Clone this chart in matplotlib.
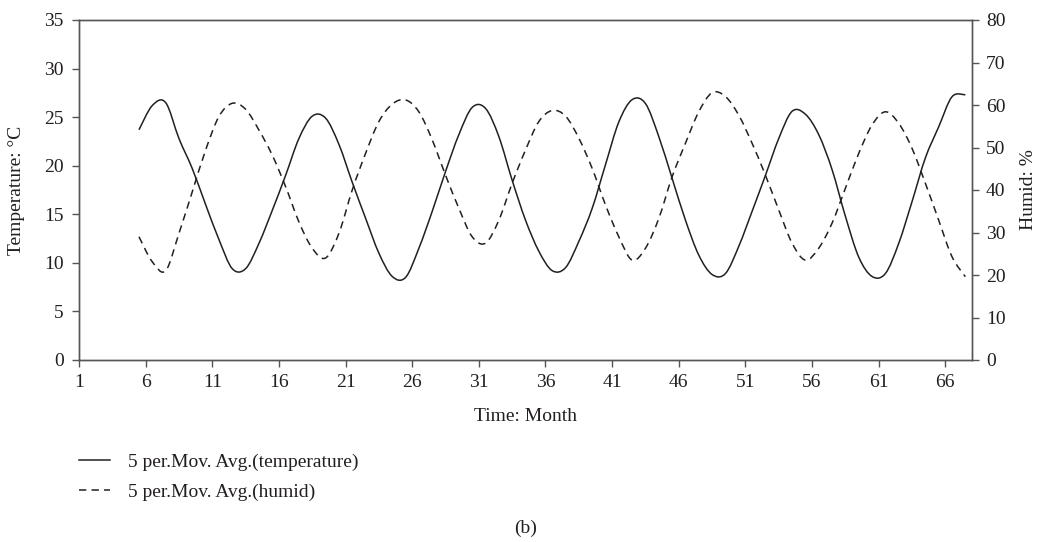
import numpy as np
import matplotlib
matplotlib.use('Agg')
from matplotlib import pyplot as plt
from matplotlib.path import Path
from matplotlib.patches import PathPatch
from matplotlib.lines import Line2D

# 5-period moving averages, months 5..67
months = np.arange(5, 68)
temperature = [23.7, 26.2, 26.5, 22.8, 19.7, 16.0, 12.4, 9.4, 9.4, 12.0,
               15.4, 19.0, 22.8, 25.1, 24.9, 22.2, 18.3, 14.6, 11.0, 8.6,
               8.5, 11.5, 15.3, 19.4, 23.2, 26.0, 25.9, 23.0, 18.5, 14.4,
               11.2, 9.2, 9.5, 12.2, 15.6, 20.1, 24.5, 26.8, 26.4, 23.0,
               18.7, 14.4, 10.8, 8.8, 8.9, 11.7, 15.3, 19.0, 22.8, 25.6,
               25.3, 23.2, 19.6, 14.8, 10.6, 8.6, 8.9, 12.0, 16.3, 20.8,
               24.0, 27.1, 27.3]
humid = [29.0, 23.1, 21.0, 29.8, 39.6, 49.4, 57.3, 60.4, 59.0, 54.1,
         48.2, 40.8, 32.5, 26.3, 24.0, 29.8, 40.0, 48.6, 56.1, 60.2,
         61.2, 58.4, 51.8, 43.5, 35.7, 29.0, 27.5, 32.9, 41.6, 49.4,
         56.1, 58.7, 57.4, 52.2, 45.1, 36.5, 29.0, 23.5, 26.3, 33.3,
         43.1, 51.0, 58.4, 62.9, 62.0, 57.6, 51.0, 43.5, 35.3, 27.5,
         23.5, 26.3, 32.2, 40.4, 48.6, 55.3, 58.4, 55.7, 49.8, 41.6,
         32.9, 24.3, 19.6]
x_ticks = np.arange(1, 67, 5)


def smooth_path(xs, ys):
    # smoothed line like Excel: cubic bezier through every data point
    p = np.column_stack([xs, ys]).astype(float)
    p = np.vstack([p[0], p, p[-1]])
    verts = [p[1]]
    codes = [Path.MOVETO]
    for i in range(1, len(p) - 2):
        c1 = p[i] + (p[i + 1] - p[i - 1]) / 6
        c2 = p[i + 1] - (p[i + 2] - p[i]) / 6
        verts += [c1, c2, p[i + 1]]
        codes += [Path.CURVE4] * 3
    return Path(verts, codes)


plt.rcParams['font.family'] = ['Liberation Serif', 'DejaVu Serif']
plt.rcParams['font.size'] = 14
txt = '#231f20'
axc = '#555555'
plt.rcParams['text.color'] = txt
plt.rcParams['axes.labelcolor'] = txt
plt.rcParams['xtick.color'] = axc
plt.rcParams['ytick.color'] = axc
plt.rcParams['xtick.labelcolor'] = txt
plt.rcParams['ytick.labelcolor'] = txt

fig = plt.figure(figsize=(10.44, 5.42), dpi=100)
ax = fig.add_axes([79 / 1044, 1 - 360 / 542, (972 - 79) / 1044, 340 / 542])
ax2 = ax.twinx()

# categories sit half a step right of their tick (Excel category axis)
x = months + 0.5
dash = (0, (4.8, 3.4))
ax.add_patch(PathPatch(smooth_path(x, temperature), fill=False, edgecolor=txt, lw=1.1))
ax2.add_patch(PathPatch(smooth_path(x, humid), fill=False, edgecolor=txt, lw=1.1, linestyle=dash))
l1 = Line2D([], [], color=txt, lw=1.1, label='5 per.Mov. Avg.(temperature)')
l2 = Line2D([], [], color=txt, lw=1.1, linestyle=dash, label='5 per.Mov. Avg.(humid)')

ax.set_xlim(1, 68)
ax.set_ylim(0, 35)
ax2.set_ylim(0, 80)
ax.set_xticks(x_ticks)
ax.set_yticks(np.arange(0, 36, 5))
ax2.set_yticks(np.arange(0, 81, 10))

for a in (ax, ax2):
    for s in a.spines.values():
        s.set_color(axc)
        s.set_linewidth(1.0)
ax.tick_params(axis='x', direction='out', length=5, width=1, pad=5)
ax.tick_params(axis='y', direction='out', length=5, width=1, pad=6)
ax2.tick_params(axis='y', direction='out', length=5, width=1, pad=5)

ax.set_xlabel('Time: Month')
ax.xaxis.set_label_coords(0.5, -0.14)
ax.set_ylabel('Temperature: °C')
ax.yaxis.set_label_coords(-0.061, 0.5)
ax2.set_ylabel('Humid: %')
ax2.yaxis.set_label_coords(1.054, 0.5)

fig.legend(handles=[l1, l2], loc='upper left', bbox_to_anchor=(79 / 1044, 1 - 453 / 542),
           frameon=False, borderpad=0, borderaxespad=0, handlelength=1.6,
           handletextpad=0.9, labelspacing=0.65)
fig.text(526 / 1044, 1 - 528 / 542, '(b)', ha='center', va='center')

plt.savefig('out.png', dpi=100)
